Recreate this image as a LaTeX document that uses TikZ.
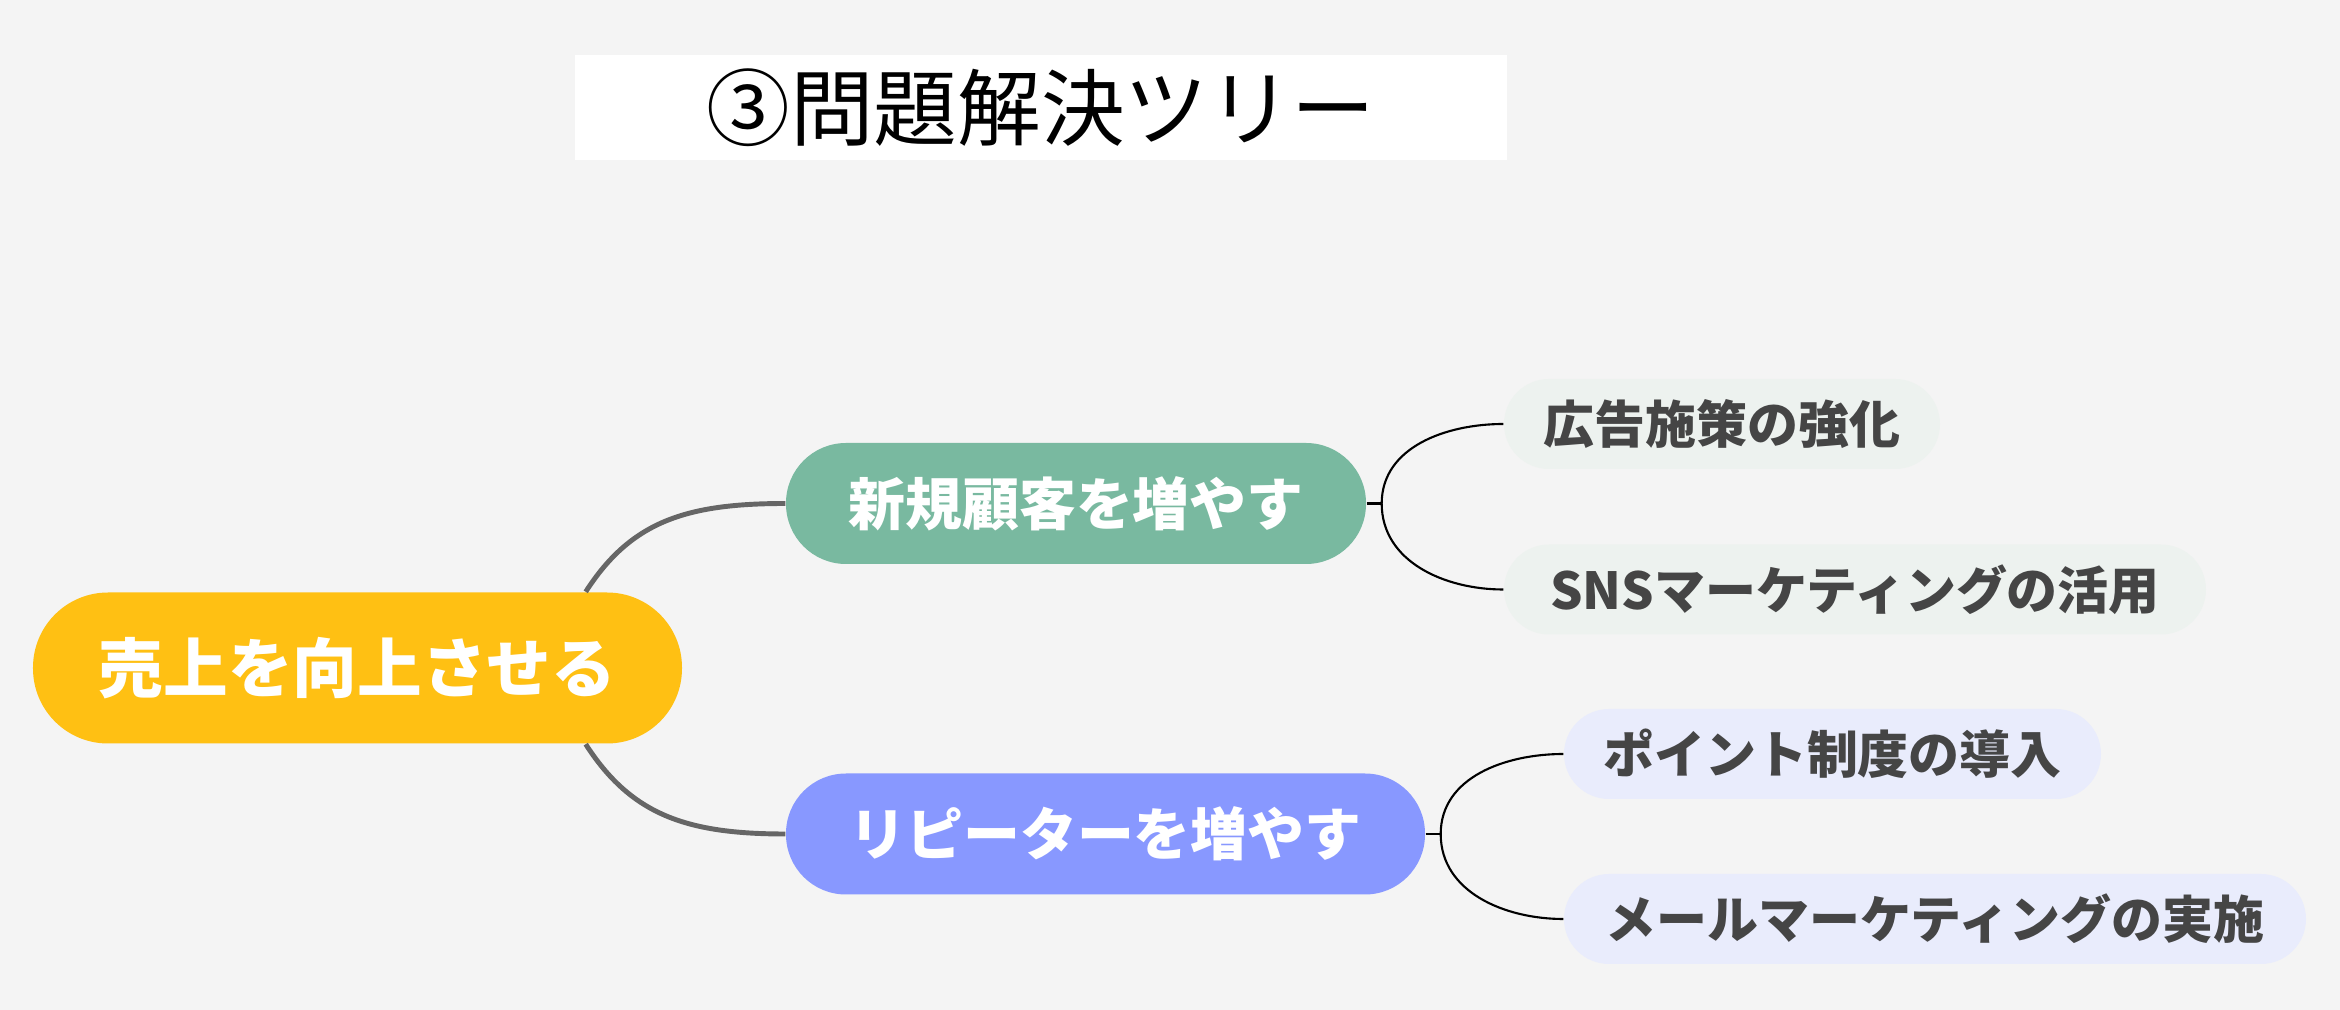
\documentclass[tikz,border=0pt]{standalone}
\usepackage{fontspec}
\usepackage{xcolor}
\usepackage{tikz}
\newfontfamily\jp{Noto Sans CJK JP}

\definecolor{paper}{HTML}{F4F4F4}
\definecolor{rootcol}{HTML}{FFC013}
\definecolor{newcol}{HTML}{79B9A0}
\definecolor{repcol}{HTML}{8898FF}
\definecolor{leafg}{HTML}{EDF2EF}
\definecolor{leafb}{HTML}{E9ECFC}
\definecolor{ink}{HTML}{454545}
\definecolor{trunkcol}{HTML}{666666}

\begin{document}
\begin{tikzpicture}
  \tikzset{
    ttl/.style={fill=white,minimum width=9.32cm,minimum height=1.05cm,inner sep=0pt,
                font=\jp\fontsize{23.8}{26}\selectfont},
    topic/.style={rounded corners=0.75cm,fill=rootcol,text=white,inner sep=0pt,
                  minimum width=6.49cm,minimum height=1.51cm,
                  font=\jp\bfseries\fontsize{18.4}{20}\selectfont},
    sub/.style={rounded corners=0.6cm,text=white,inner sep=0pt,minimum height=1.21cm,
                font=\jp\bfseries\fontsize{16.2}{18}\selectfont},
    leaf/.style={rounded corners=0.45cm,text=ink,inner sep=0pt,minimum height=0.9cm,
                 font=\jp\bfseries\fontsize{14.5}{16}\selectfont},
    trunk/.style={draw=trunkcol,line width=1.4pt},
    twig/.style={draw=black,line width=0.6pt}
  }
  \fill[paper] (0,0) rectangle (23.4,10.1);
  \useasboundingbox (0,0) rectangle (23.4,10.1);

  % title
  \node[ttl] (t) at (10.41,9.025) {③問題解決ツリー};

  % root and branches
  \node[topic] (r) at (3.575,3.42) {売上を向上させる};
  \node[sub,fill=newcol,minimum width=5.80cm] (n1) at (10.76,5.065) {新規顧客を増やす};
  \node[sub,fill=repcol,minimum width=6.39cm] (n2) at (11.055,1.76) {リピーターを増やす};

  % leaves
  \node[leaf,fill=leafg,minimum width=4.36cm] (l1) at (17.22,5.86) {広告施策の強化};
  \node[leaf,fill=leafg,minimum width=7.02cm] (l2) at (18.55,4.205) {SNSマーケティングの活用};
  \node[leaf,fill=leafb,minimum width=5.37cm] (l3) at (18.325,2.56) {ポイント制度の導入};
  \node[leaf,fill=leafb,minimum width=7.42cm] (l4) at (19.35,0.91) {メールマーケティングの実施};

  \draw[trunk] ([xshift=-0.97cm]r.north east) .. controls +(0.45,0.7) and +(-1.0,0) .. (n1.west);
  \draw[trunk] ([xshift=-0.97cm]r.south east) .. controls +(0.45,-0.7) and +(-1.0,0) .. (n2.west);

  \draw[twig] (n1.east) -- ++(0.15,0) coordinate (j1);
  \draw[twig] (j1) to[out=90,in=180] (l1.west);
  \draw[twig] (j1) to[out=-90,in=180] (l2.west);
  \draw[twig] (n2.east) -- ++(0.15,0) coordinate (j2);
  \draw[twig] (j2) to[out=90,in=180] (l3.west);
  \draw[twig] (j2) to[out=-90,in=180] (l4.west);
\end{tikzpicture}
\end{document}
